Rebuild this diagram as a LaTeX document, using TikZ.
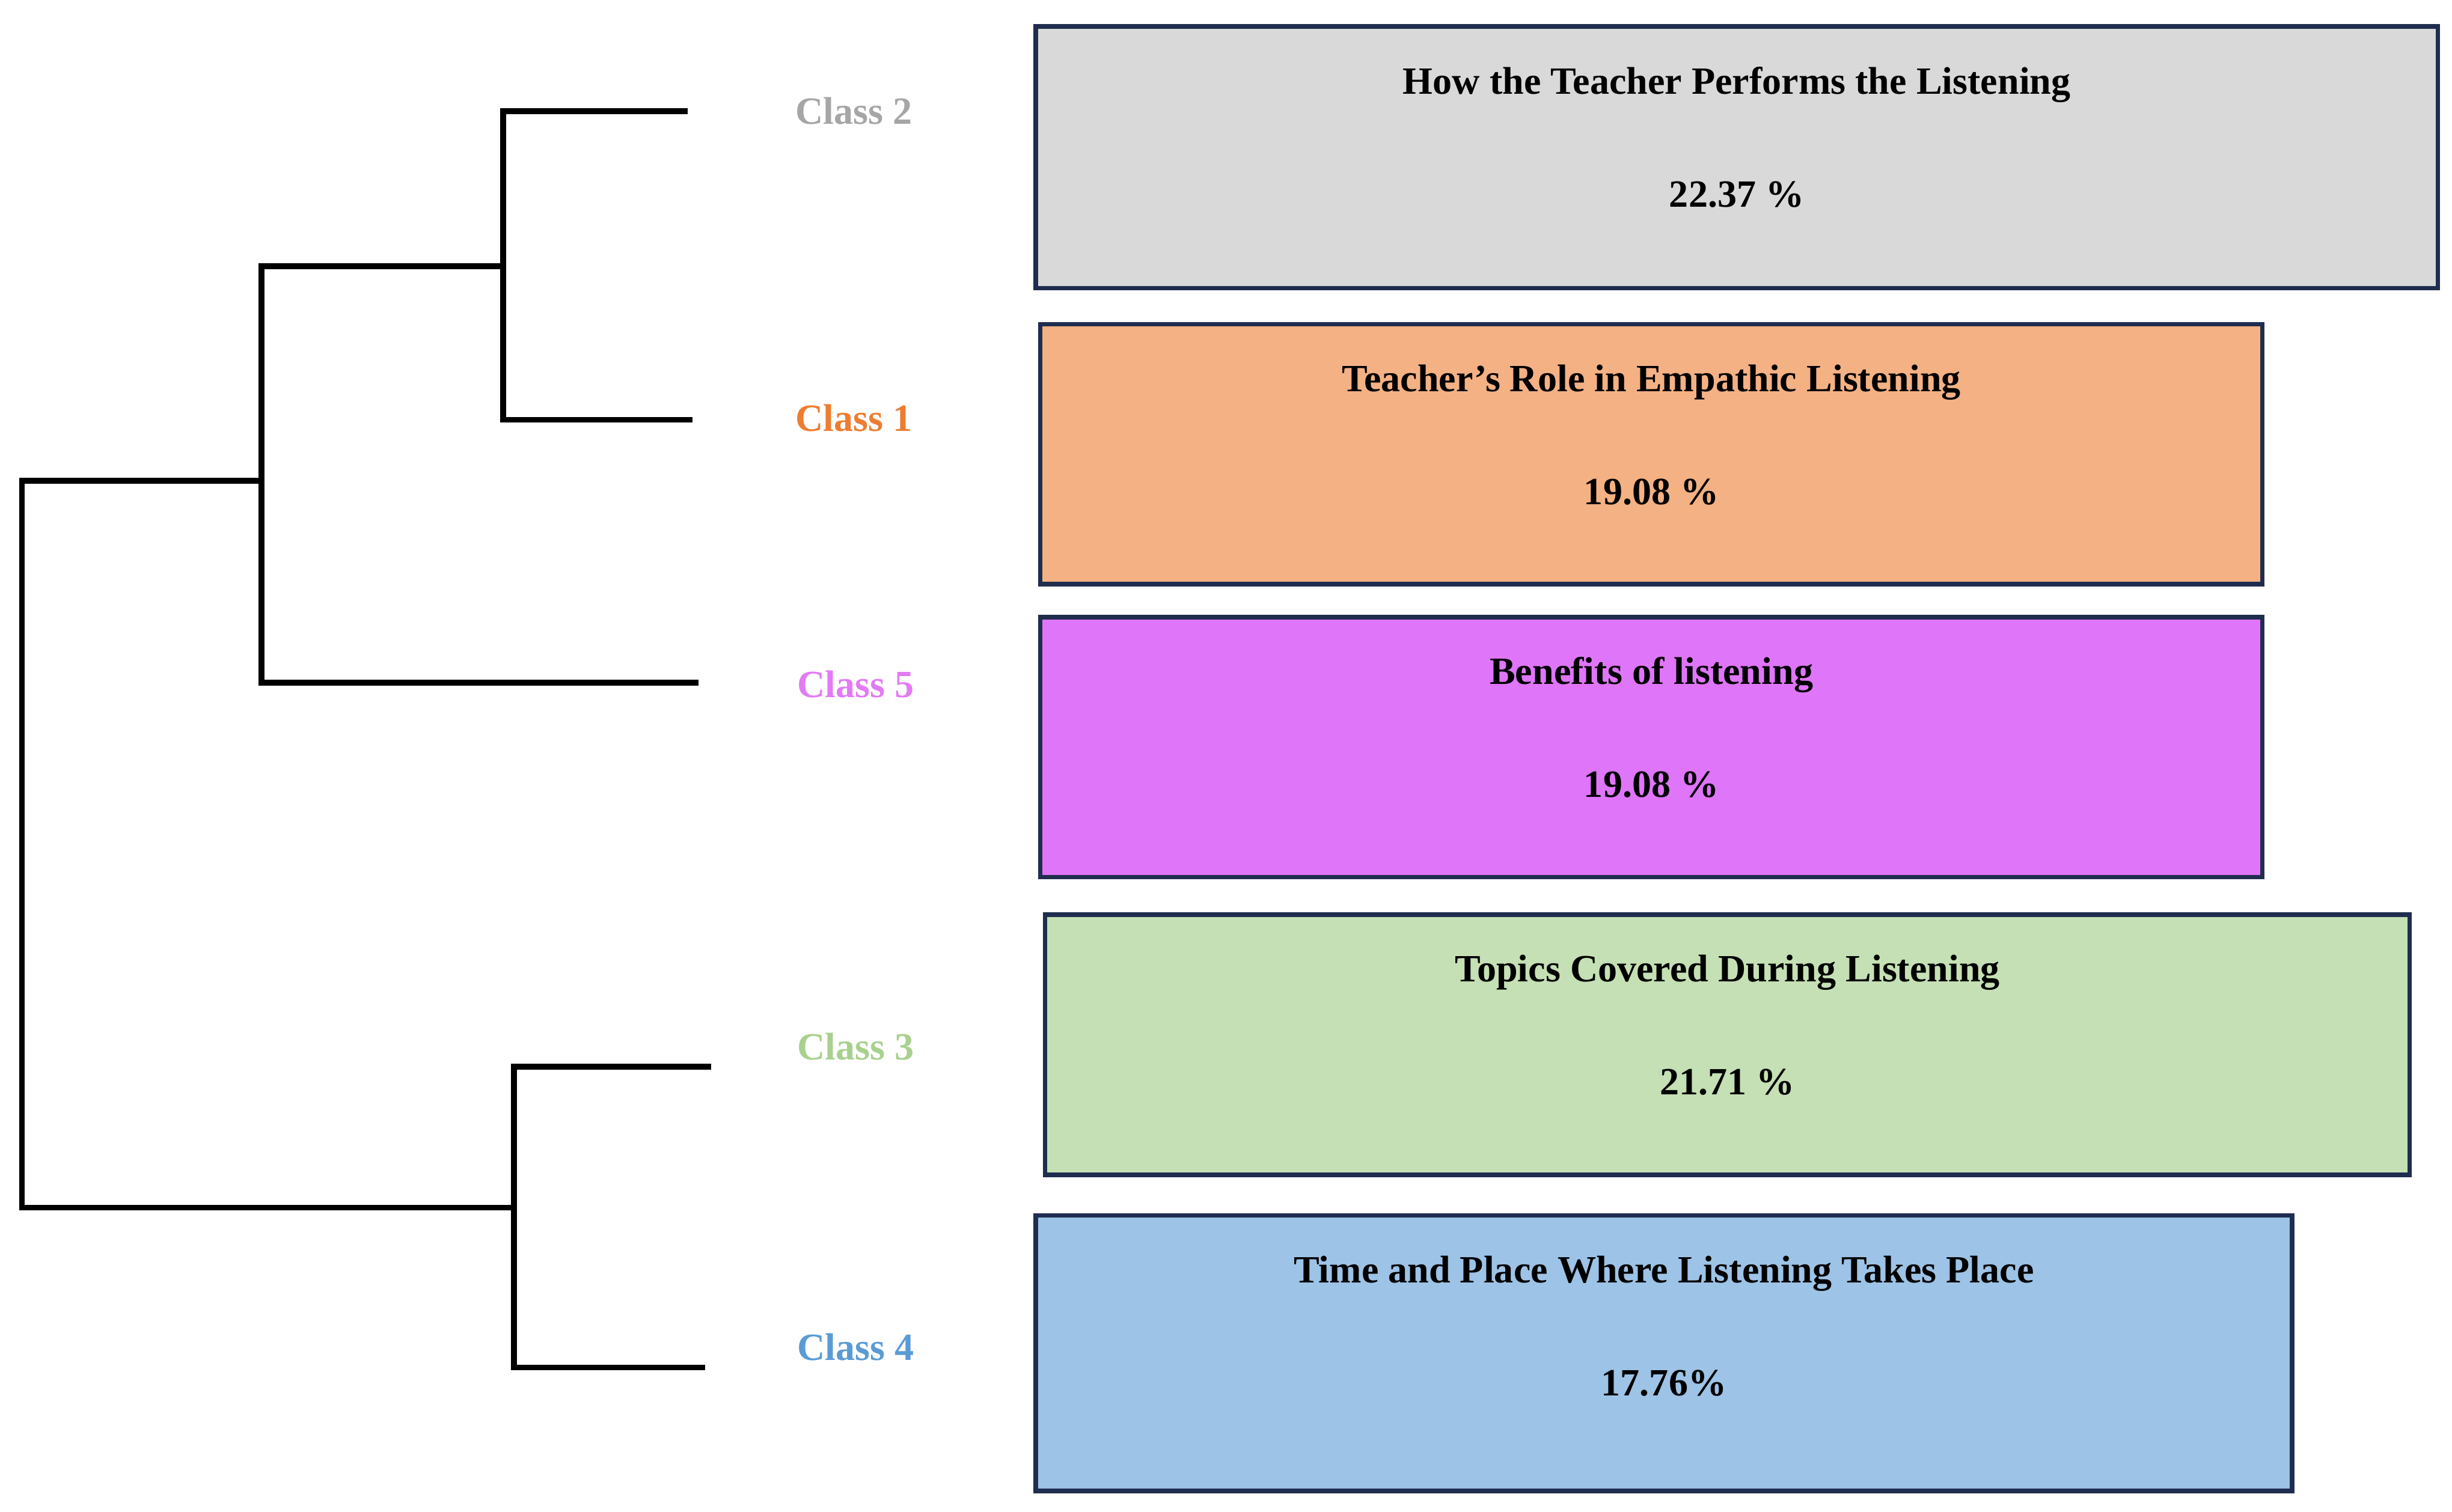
\documentclass[tikz,border=0pt]{standalone}
\usepackage{fontspec}
\setmainfont{Liberation Serif}
\begin{document}
\begin{tikzpicture}[x=0.03cm,y=-0.03cm,
  box/.style={draw=black!60!blue!40!black,line width=2.5pt,anchor=north west,inner sep=0pt},
  ttl/.style={font=\fontsize{21}{25}\selectfont\bfseries},
  cls/.style={font=\fontsize{21}{25}\selectfont\bfseries},
  den/.style={line width=3.2pt,line cap=rect}]
\definecolor{bx}{HTML}{1F2D4E}
\useasboundingbox (0,0) rectangle (1565,965);
% boxes
\foreach \n/\xa/\ya/\xb/\yb/\c/\t/\p in {
 b1/661/17/1556/184/D9D9D9/How the Teacher Performs the Listening/22.37 \%,
 b2/664/207/1444/373/F4B183/Teacher’s Role in Empathic Listening/19.08 \%,
 b3/664/394/1444/560/DF75F9/Benefits of listening/19.08 \%,
 b4/667/584/1538/750/C5E0B4/Topics Covered During Listening/21.71 \%,
 b5/661/776/1463/952/9DC3E6/Time and Place Where Listening Takes Place/17.76\%}{
 \definecolor{fc}{HTML}{\c}
 \draw[draw=bx,line width=2.5pt,fill=fc] (\xa,\ya) rectangle (\xb,\yb);
 \node[ttl] (\n t) at ({(\xa+\xb)/2},{\ya+37}) {\t};
 \node[ttl] (\n p) at ({(\xa+\xb)/2},{\ya+107}) {\p};
}
% labels
\node[cls,text=black!35] (c2) at (545,71) {Class 2};
\node[cls,text={rgb,255:red,237;green,125;blue,49}] (c1) at (545,267) {Class 1};
\node[cls,text={rgb,255:red,226;green,123;blue,245}] (c5) at (546,437) {Class 5};
\node[cls,text={rgb,255:red,169;green,209;blue,142}] (c3) at (546,668) {Class 3};
\node[cls,text={rgb,255:red,91;green,155;blue,213}] (c4) at (546,860) {Class 4};
% dendrogram
\coordinate (l2) at (437,71); \coordinate (l1) at (440,268);
\coordinate (l5) at (444,436); \coordinate (l3) at (452,681); \coordinate (l4) at (448,873);
\draw[den] (l2) -- (321,71) -- (321,268) -- (l1);
\draw[den] (321,170) -- (167,170) -- (167,436) -- (l5);
\draw[den] (l3) -- (328,681) -- (328,873) -- (l4);
\draw[den] (167,307) -- (14,307) -- (14,771) -- (328,771);
\end{tikzpicture}
\end{document}
